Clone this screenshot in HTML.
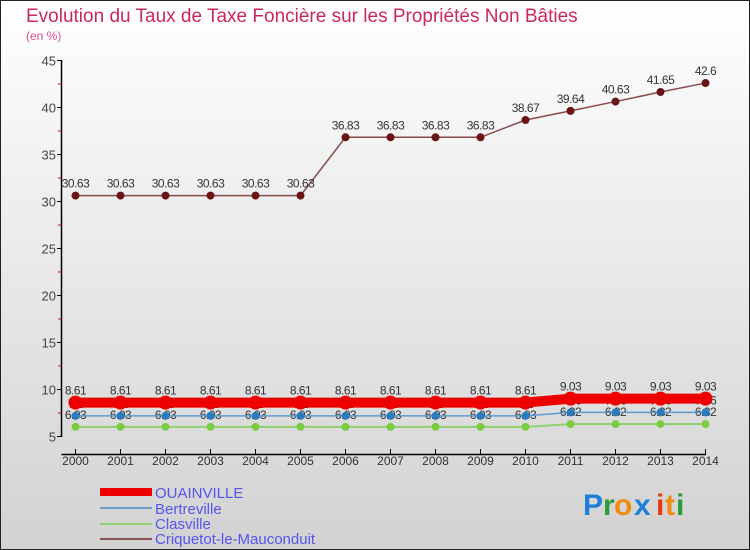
<!DOCTYPE html>
<html><head><meta charset="utf-8"><style>
html,body{margin:0;padding:0;}
body{width:750px;height:550px;overflow:hidden;font-family:"Liberation Sans",sans-serif;}
</style></head><body>
<svg id="chart" width="750" height="550" xmlns="http://www.w3.org/2000/svg" style="display:block">
<defs>
<linearGradient id="bg" x1="0" y1="0" x2="0" y2="1">
<stop offset="0" stop-color="#ffffff"/><stop offset="1" stop-color="#d2d2d2"/>
</linearGradient>
</defs>
<rect x="0.5" y="0.5" width="749" height="549" fill="url(#bg)" stroke="#222" stroke-width="1"/>
<text x="26" y="22" font-size="19" fill="#c8285e">Evolution du Taux de Taxe Foncière sur les Propriétés Non Bâties</text>
<text x="26" y="40" font-size="12" fill="#d2508a">(en %)</text>
<g id="axes"></g>
<g id="series"></g>
<g id="legend">
<rect x="100" y="488" width="52" height="8" fill="#e00"/>
<text x="155" y="498" font-size="15" fill="#5555ee">OUAINVILLE</text>
<rect x="100" y="507" width="52" height="2" fill="#6aa0c8"/>
<text x="155" y="514" font-size="15" fill="#5555ee">Bertreville</text>
<rect x="100" y="523" width="52" height="2" fill="#8fd070"/>
<text x="155" y="529" font-size="15" fill="#5555ee">Clasville</text>
<rect x="100" y="538" width="52" height="2" fill="#8a5555"/>
<text x="155" y="544" font-size="15" fill="#5555ee">Criquetot-le-Mauconduit</text>
</g>
<g font-size="30" font-weight="bold" font-family="'Liberation Sans',sans-serif">
<text x="583" y="515" fill="#1e7fd8">P</text><text x="603" y="515" fill="#2a9a3a">r</text><text x="614" y="515" fill="#f08a10">o</text><text x="634" y="515" fill="#1e7fd8">x</text><text x="656" y="515" fill="#e53a10">i</text><text x="665" y="515" fill="#f08a10">t</text><text x="676" y="515" fill="#2a9a3a">i</text>
</g>
</svg>
<script>
const years=[2000,2001,2002,2003,2004,2005,2006,2007,2008,2009,2010,2011,2012,2013,2014];
const ouainville=[8.61,8.61,8.61,8.61,8.61,8.61,8.61,8.61,8.61,8.61,8.61,9.03,9.03,9.03,9.03];
const bertreville=[7.2,7.2,7.2,7.2,7.2,7.2,7.2,7.2,7.2,7.2,7.2,7.56,7.56,7.56,7.56];
const clasville=[6.03,6.03,6.03,6.03,6.03,6.03,6.03,6.03,6.03,6.03,6.03,6.32,6.32,6.32,6.32];
const criquetot=[30.63,30.63,30.63,30.63,30.63,30.63,36.83,36.83,36.83,36.83,38.67,39.64,40.63,41.65,42.6];
const yTicks=[5,10,15,20,25,30,35,40,45];
const NS="http://www.w3.org/2000/svg";
function x(i){return 75.5+i*45;}
function y(v){return 436.5-(v-5)*9.4;}
function mk(tag,attrs,parent){const e=document.createElementNS(NS,tag);for(const k in attrs)e.setAttribute(k,attrs[k]);parent.appendChild(e);return e;}
const axes=document.getElementById('axes');
let a=mk('line',{x1:61.5,y1:60,x2:61.5,y2:437,stroke:'#000','stroke-width':1.5},axes);


a=mk('line',{x1:61.5,y1:454.5,x2:706,y2:454.5,stroke:'#000','stroke-width':1.5},axes);


yTicks.forEach(v=>{
  let t=mk('line',{x1:57,x2:62,y1:y(v),y2:y(v),stroke:'#000'},axes);
  
  
  let l=mk('text',{x:56,y:y(v)+5,'text-anchor':'end','font-size':13,fill:'#444'},axes);
  l.textContent=v;
  
  
  if(v<45){let m=mk('line',{x1:58,x2:61,y1:y(v+2.5),y2:y(v+2.5),stroke:'#e00'},axes);
  
  }
});
years.forEach((yr,i)=>{
  let t=mk('line',{x1:x(i),x2:x(i),y1:449,y2:455,stroke:'#000'},axes);
  
  
  let l=mk('text',{x:x(i),y:465,'text-anchor':'middle','font-size':12,fill:'#333'},axes);
  l.textContent=yr;
  
  
});
const ser=document.getElementById('series');
function draw(name,vals,color,w,r,mcolor){
  const g=mk('g',{},ser);
  
  
  const p=mk('polyline',{points:vals.map((v,i)=>x(i)+','+y(v)).join(' '),fill:'none',stroke:color,'stroke-width':w},g);
  
  
  vals.forEach((v,i)=>{
    const c=mk('circle',{cx:x(i),cy:y(v),r:r,fill:mcolor},g);
    
    
  });
  vals.forEach((v,i)=>{
    const t=mk('text',{x:x(i),y:y(v)-8,'text-anchor':'middle','font-size':12,fill:'#333','letter-spacing':'-0.5'},g);
    t.textContent=String(v);
    
    
  });
}
draw('criquetot',criquetot,'#8a4a4a',1.5,4,'#6a1515');
draw('clasville',clasville,'#8fd070',2,4,'#7ccc40');
draw('bertreville',bertreville,'#5a9ad0',1.5,4,'#2a7ac0');
draw('ouainville',ouainville,'#ee0000',10,7,'#ee0000');
</script>
</body></html>
